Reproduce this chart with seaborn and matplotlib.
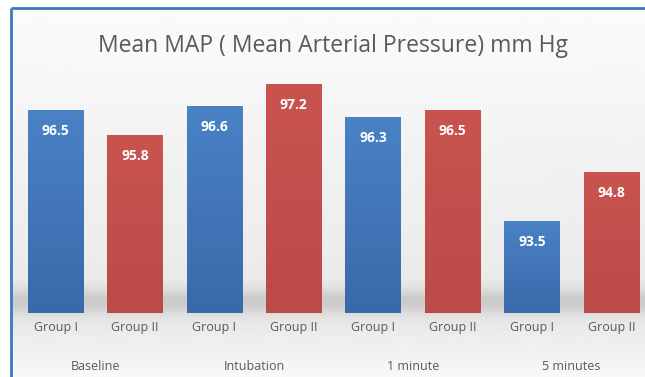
import numpy as np
import pandas as pd
import matplotlib
matplotlib.use("Agg")
import matplotlib.pyplot as plt
import seaborn as sns
from matplotlib.colors import LinearSegmentedColormap
import matplotlib.transforms as mtransforms

# Mean arterial pressure (mm Hg) per time point and group
times = ["Baseline", "Intubation", "1 minute", "5 minutes"]
groups = ["Group I", "Group II"]
group1_map = [96.5, 96.6, 96.3, 93.5]
group2_map = [95.8, 97.2, 96.5, 94.8]

rows = []
for t, g1, g2 in zip(times, group1_map, group2_map):
    rows.append({"slot": f"{t}|{groups[0]}", "group": groups[0], "time": t, "map": g1})
    rows.append({"slot": f"{t}|{groups[1]}", "group": groups[1], "time": t, "map": g2})
df = pd.DataFrame(rows)

sns.set_theme(style="white")
plt.rcParams["font.family"] = ["Open Sans", "DejaVu Sans"]

W, H = 645, 377
fig = plt.figure(figsize=(W / 100, H / 100), dpi=100)
fig.patch.set_facecolor("white")

# soft gray backdrop with a shadow band under the bars
bg = fig.add_axes([0, 0, 1, 1], zorder=-10)
yy = np.linspace(0, 1, 400)[:, None]  # 0 = top
base = 0.985 - 0.07 * np.clip(yy / 0.8, 0, 1)
shadow = 0.12 * np.exp(-((yy - 0.80) / 0.035) ** 2)
fade = np.where(yy > 0.86, (yy - 0.86) / 0.14 * 0.06, 0)
gray = np.clip(base - shadow + fade, 0, 1)
img = np.repeat(gray, 10, axis=1)
bg.imshow(img, cmap="gray", vmin=0, vmax=1, aspect="auto",
          extent=[0, 1, 0, 1], interpolation="bilinear")
bg.set_xlim(0, 1)
bg.set_ylim(0, 1)
bg.axis("off")
# white margin outside the frame
bg.add_patch(plt.Rectangle((0, 0), 11 / W, 1, color="white", zorder=2))
bg.add_patch(plt.Rectangle((0, 1 - 8 / H), 1, 8 / H, color="white", zorder=2))
# lighter box behind the title
bg.add_patch(plt.Rectangle((72 / W, 1 - 66 / H), 520 / W, 40 / H,
                           color="#f9f9f9", zorder=1, lw=0))
# blue frame lines
bg.plot([11 / W, 11 / W], [0, 1 - 8 / H], color="#3b78c0", lw=2, zorder=3,
        solid_capstyle="butt")
bg.plot([11 / W, 1], [1 - 8 / H, 1 - 8 / H], color="#3b78c0", lw=2, zorder=3,
        solid_capstyle="butt")

# main axes: bars sit on 91 mm Hg
ymin, ymax = 91.0, 97.8
px_per_unit = 37.0
ax_left = 15.8 / W
ax_width = 8 * 79.4 / W
ax_bottom = (H - 313) / H
ax_height = (ymax - ymin) * px_per_unit / H
ax = fig.add_axes([ax_left, ax_bottom, ax_width, ax_height])
ax.patch.set_alpha(0)

order = list(df["slot"])
palette = {"Group I": "#4174b8", "Group II": "#c0504d"}
sns.barplot(data=df, x="slot", y="map", hue="group", palette=palette,
            dodge=False, width=0.7, ax=ax, legend=False, saturation=1,
            linewidth=0, order=order)
ax.set_ylim(ymin, ymax)
ax.set_xlim(-0.5, 7.5)

# vertical shading on each bar, plus its value label
shades = {"Group I": ("#4a82c6", "#3a69aa"), "Group II": ("#c9534f", "#bb4b48")}
for patch in list(ax.patches):
    x0 = patch.get_x()
    x1 = x0 + patch.get_width()
    idx = int(round((x0 + x1) / 2))
    r = df.iloc[idx]
    top_c, bot_c = shades[r["group"]]
    cmap = LinearSegmentedColormap.from_list("s", [bot_c, top_c])
    grad = np.linspace(1, 0, 100)[:, None]
    im = ax.imshow(grad, cmap=cmap, aspect="auto", extent=[x0, x1, ymin, r["map"]],
                   zorder=patch.get_zorder() + 0.1, interpolation="bilinear")
    im.set_clip_path(patch)
    ax.text((x0 + x1) / 2, r["map"] - 21 / px_per_unit,
            f"{r['map']:.1f}", ha="center", va="center", color="white",
            fontsize=10, fontweight="bold", zorder=5)

ax.set_xticks(range(len(df)))
ax.set_xticklabels(df["group"], color="#595959", fontsize=9)
ax.tick_params(axis="x", length=0, pad=6)
ax.set_yticks([])
ax.set_xlabel("")
ax.set_ylabel("")
for s in ax.spines.values():
    s.set_visible(False)

# time-point labels under each pair
trans = mtransforms.blended_transform_factory(ax.transData, fig.transFigure)
for i, t in enumerate(times):
    ax.text(2 * i + 0.5, 1 - 366 / H, t, transform=trans, ha="center",
            va="center", color="#595959", fontsize=9)

fig.text(333 / W, 1 - 46 / H, "Mean MAP ( Mean Arterial Pressure) mm Hg",
         ha="center", va="center", color="#595959", fontsize=16.5)

ax.set_ylim(ymin, ymax)
ax.set_xlim(-0.5, 7.5)
fig.savefig("out.png", dpi=100)
